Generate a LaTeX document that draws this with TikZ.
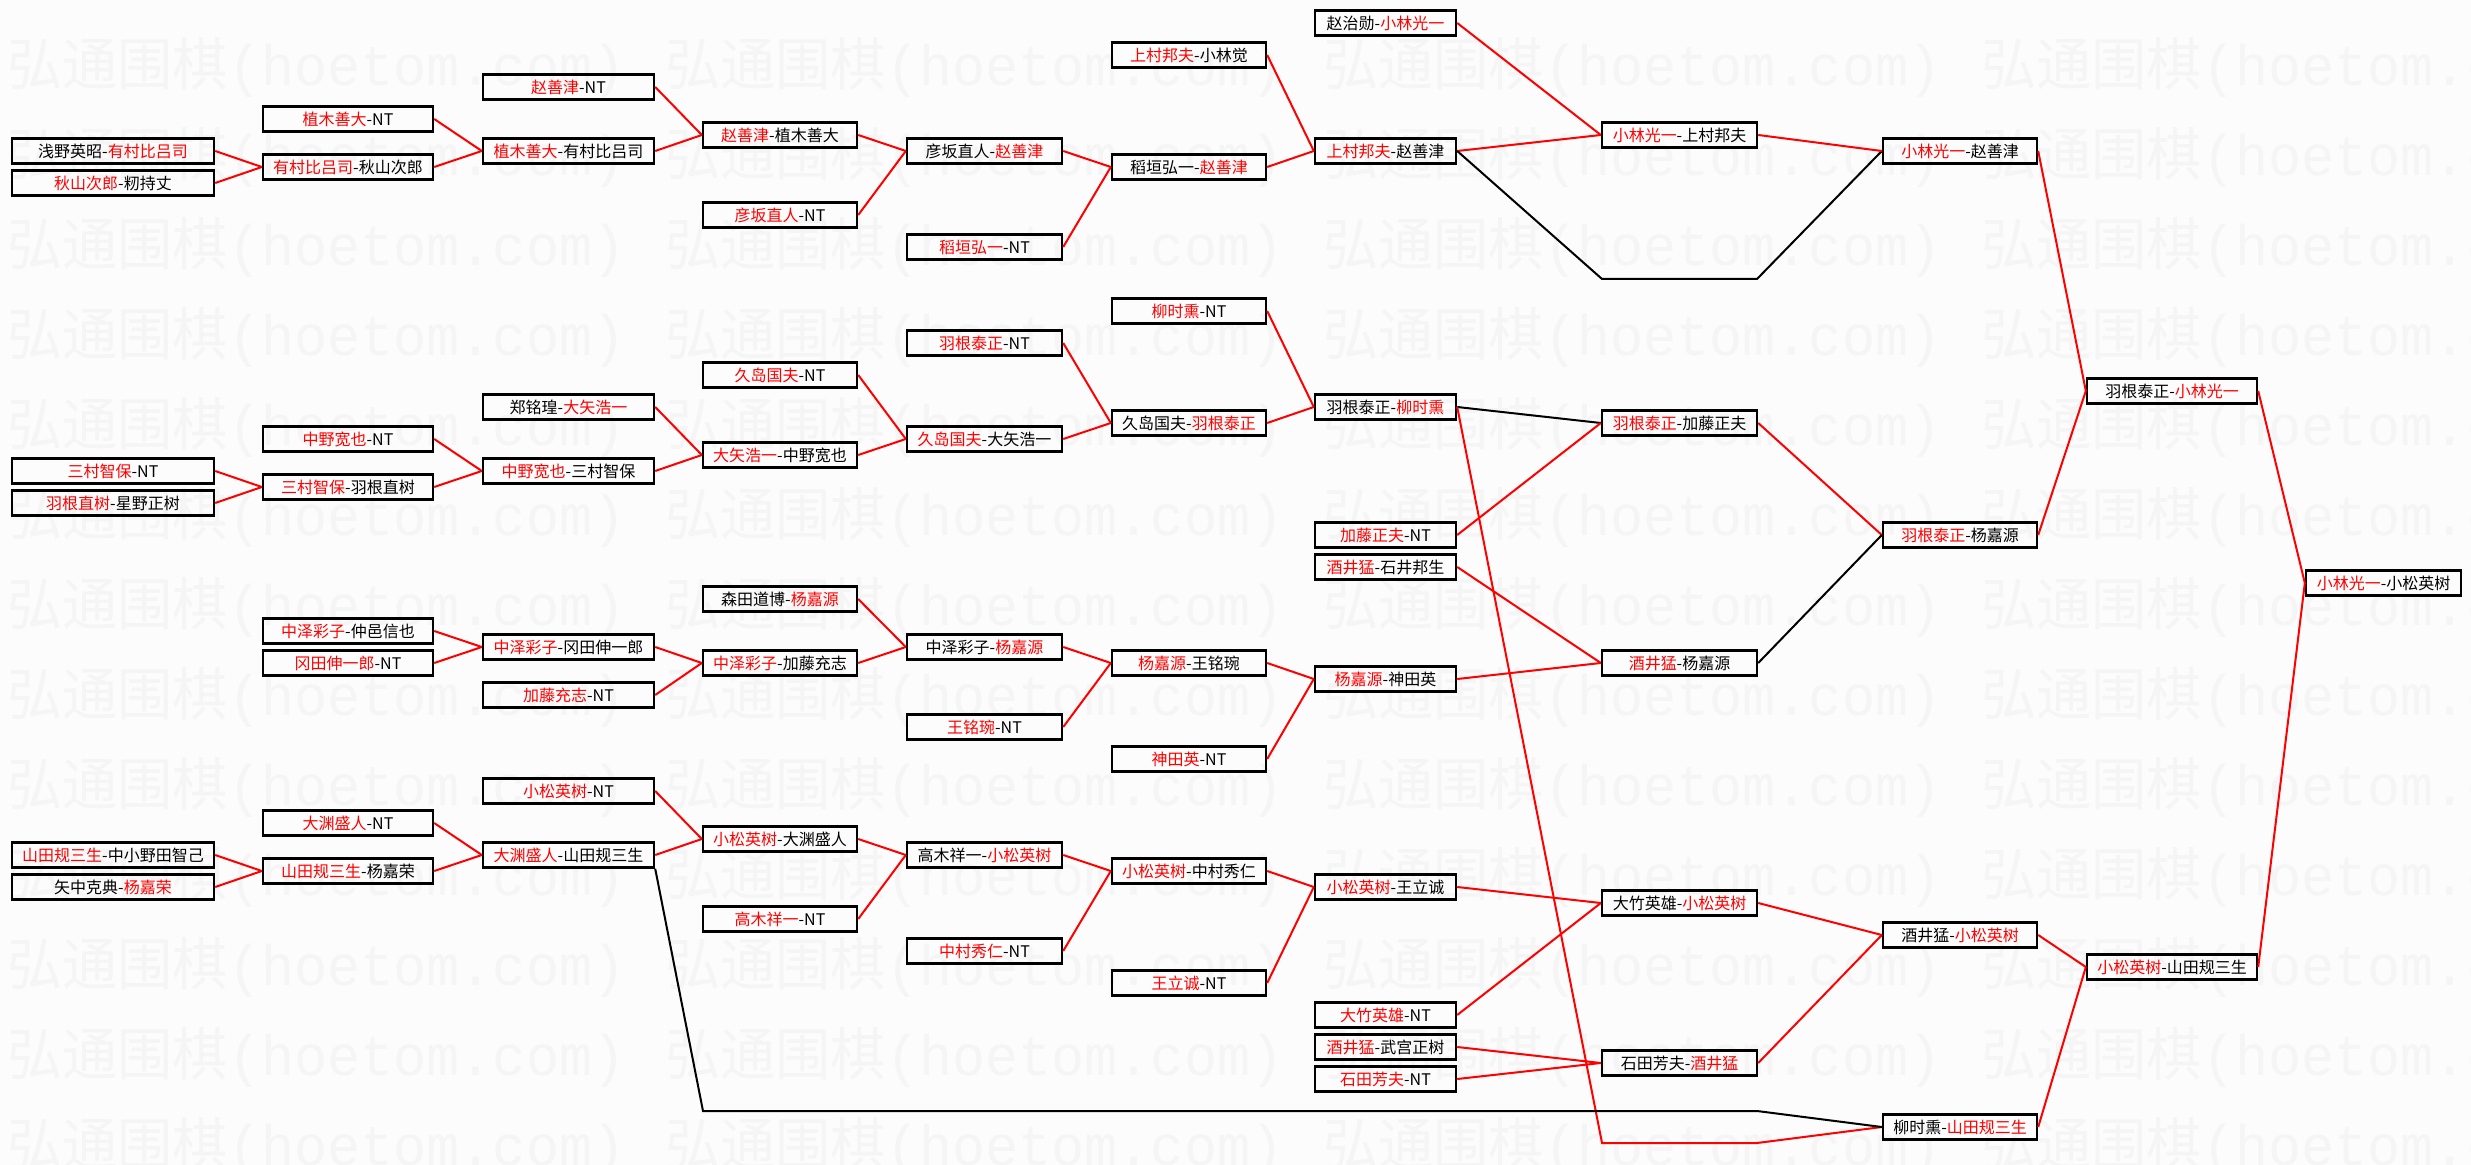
\documentclass[tikz,border=0pt]{standalone}
\usepackage{fontspec}
\usepackage{xcolor}
\usepackage{graphicx}
\usepackage{tikz}
\newfontfamily\cjk{Noto Sans CJK SC}
\newfontfamily\wmmono{Liberation Mono}
\newcommand{\winner}[1]{\textcolor{red}{#1}}

\begin{document}
\begin{tikzpicture}[x=0.5pt, y=-0.5pt,
    box/.style={rectangle, draw=black, line width=1.2pt, inner sep=0pt,
                minimum height=12.5pt, font=\cjk\fontsize{8}{8}\selectfont, align=center},
    colA/.style={box, minimum width=101pt},
    colB/.style={box, minimum width=85pt},
    colC/.style={box, minimum width=85.5pt},
    colD/.style={box, minimum width=77pt},
    colE/.style={box, minimum width=77.5pt},
    colF/.style={box, minimum width=77pt},
    colG/.style={box, minimum width=70.5pt},
    colH/.style={box, minimum width=77.5pt},
    colI/.style={box, minimum width=77pt},
    colJ/.style={box, minimum width=85pt},
    colK/.style={box, minimum width=77.5pt},
    winline/.style={draw=red, line width=1pt},
    loseline/.style={draw=black, line width=1pt},
    wmark/.style={text=black!4, inner sep=0pt, anchor=west}]

\useasboundingbox (0,0) rectangle (2471,1165);
\fill[black!1] (0,0) rectangle (2471,1165);
\clip (0,0) rectangle (2471,1165);

% watermark
\foreach \row in {0,...,12}
  \foreach \col in {0,...,3}
    \node[wmark] (wm-\row-\col) at ({7+658*\col},{67+90*\row})
      {\resizebox{309pt}{24pt}{\cjk 弘通围棋\wmmono (hoetom.com)}};

% round 1
\node[colA] (a1) at (113,151) {浅野英昭-\winner{有村比吕司}};
\node[colA] (a2) at (113,183) {\winner{秋山次郎}-籾持丈};
\node[colA] (a3) at (113,471) {\winner{三村智保}-NT};
\node[colA] (a4) at (113,503) {\winner{羽根直树}-星野正树};
\node[colA] (a5) at (113,855) {\winner{山田规三生}-中小野田智己};
\node[colA] (a6) at (113,887) {矢中克典-\winner{杨嘉荣}};

% round 2
\node[colB] (b1) at (348,119) {\winner{植木善大}-NT};
\node[colB] (b2) at (348,167) {\winner{有村比吕司}-秋山次郎};
\node[colB] (b3) at (348,439) {\winner{中野宽也}-NT};
\node[colB] (b4) at (348,487) {\winner{三村智保}-羽根直树};
\node[colB] (b5) at (348,631) {\winner{中泽彩子}-仲邑信也};
\node[colB] (b6) at (348,663) {\winner{冈田伸一郎}-NT};
\node[colB] (b7) at (348,823) {\winner{大渊盛人}-NT};
\node[colB] (b8) at (348,871) {\winner{山田规三生}-杨嘉荣};

% round 3
\node[colC] (c1) at (568.5,87) {\winner{赵善津}-NT};
\node[colC] (c2) at (568.5,151) {\winner{植木善大}-有村比吕司};
\node[colC] (c3) at (568.5,407) {郑铭瑝-\winner{大矢浩一}};
\node[colC] (c4) at (568.5,471) {\winner{中野宽也}-三村智保};
\node[colC] (c5) at (568.5,647) {\winner{中泽彩子}-冈田伸一郎};
\node[colC] (c6) at (568.5,695) {\winner{加藤充志}-NT};
\node[colC] (c7) at (568.5,791) {\winner{小松英树}-NT};
\node[colC] (c8) at (568.5,855) {\winner{大渊盛人}-山田规三生};

% round 4
\node[colD] (d1) at (780,135) {\winner{赵善津}-植木善大};
\node[colD] (d2) at (780,215) {\winner{彦坂直人}-NT};
\node[colD] (d3) at (780,375) {\winner{久岛国夫}-NT};
\node[colD] (d4) at (780,455) {\winner{大矢浩一}-中野宽也};
\node[colD] (d5) at (780,599) {森田道博-\winner{杨嘉源}};
\node[colD] (d6) at (780,663) {\winner{中泽彩子}-加藤充志};
\node[colD] (d7) at (780,839) {\winner{小松英树}-大渊盛人};
\node[colD] (d8) at (780,919) {\winner{高木祥一}-NT};

% round 5
\node[colE] (e1) at (984.5,151) {彦坂直人-\winner{赵善津}};
\node[colE] (e2) at (984.5,247) {\winner{稻垣弘一}-NT};
\node[colE] (e3) at (984.5,343) {\winner{羽根泰正}-NT};
\node[colE] (e4) at (984.5,439) {\winner{久岛国夫}-大矢浩一};
\node[colE] (e5) at (984.5,647) {中泽彩子-\winner{杨嘉源}};
\node[colE] (e6) at (984.5,727) {\winner{王铭琬}-NT};
\node[colE] (e7) at (984.5,855) {高木祥一-\winner{小松英树}};
\node[colE] (e8) at (984.5,951) {\winner{中村秀仁}-NT};

% round 6
\node[colF] (f1) at (1189,55) {\winner{上村邦夫}-小林觉};
\node[colF] (f2) at (1189,167) {稻垣弘一-\winner{赵善津}};
\node[colF] (f3) at (1189,311) {\winner{柳时熏}-NT};
\node[colF] (f4) at (1189,423) {久岛国夫-\winner{羽根泰正}};
\node[colF] (f5) at (1189,663) {\winner{杨嘉源}-王铭琬};
\node[colF] (f6) at (1189,759) {\winner{神田英}-NT};
\node[colF] (f7) at (1189,871) {\winner{小松英树}-中村秀仁};
\node[colF] (f8) at (1189,983) {\winner{王立诚}-NT};

% round 7
\node[colG] (g1) at (1385.5,23) {赵治勋-\winner{小林光一}};
\node[colG] (g2) at (1385.5,151) {\winner{上村邦夫}-赵善津};
\node[colG] (g3) at (1385.5,407) {羽根泰正-\winner{柳时熏}};
\node[colG] (g4) at (1385.5,535) {\winner{加藤正夫}-NT};
\node[colG] (g5) at (1385.5,567) {\winner{酒井猛}-石井邦生};
\node[colG] (g6) at (1385.5,679) {\winner{杨嘉源}-神田英};
\node[colG] (g7) at (1385.5,887) {\winner{小松英树}-王立诚};
\node[colG] (g8) at (1385.5,1015) {\winner{大竹英雄}-NT};
\node[colG] (g9) at (1385.5,1047) {\winner{酒井猛}-武宫正树};
\node[colG] (g10) at (1385.5,1079) {\winner{石田芳夫}-NT};

% round 8
\node[colH] (h1) at (1679.5,135) {\winner{小林光一}-上村邦夫};
\node[colH] (h2) at (1679.5,423) {\winner{羽根泰正}-加藤正夫};
\node[colH] (h3) at (1679.5,663) {\winner{酒井猛}-杨嘉源};
\node[colH] (h4) at (1679.5,903) {大竹英雄-\winner{小松英树}};
\node[colH] (h5) at (1679.5,1063) {石田芳夫-\winner{酒井猛}};

% round 9
\node[colI] (i1) at (1960,151) {\winner{小林光一}-赵善津};
\node[colI] (i2) at (1960,535) {\winner{羽根泰正}-杨嘉源};
\node[colI] (i3) at (1960,935) {酒井猛-\winner{小松英树}};
\node[colI] (i4) at (1960,1127) {柳时熏-\winner{山田规三生}};

% semi-final and final
\node[colJ] (j1) at (2172,391) {羽根泰正-\winner{小林光一}};
\node[colJ] (j2) at (2172,967) {\winner{小松英树}-山田规三生};
\node[colK] (k1) at (2383.5,583) {\winner{小林光一}-小松英树};

% corner points of the long connectors
\coordinate (topL) at (1602,279);
\coordinate (topR) at (1757,279);
\coordinate (lowL) at (703,1111);
\coordinate (lowR) at (1757,1111);
\coordinate (redL) at (1602,1143);
\coordinate (redR) at (1757,1143);

% upper block
\draw[winline] (a1.east) -- (b2.west);
\draw[winline] (a2.east) -- (b2.west);
\draw[winline] (b1.east) -- (c2.west);
\draw[winline] (b2.east) -- (c2.west);
\draw[winline] (c1.east) -- (d1.west);
\draw[winline] (c2.east) -- (d1.west);
\draw[winline] (d1.east) -- (e1.west);
\draw[winline] (d2.east) -- (e1.west);
\draw[winline] (e1.east) -- (f2.west);
\draw[winline] (e2.east) -- (f2.west);
\draw[winline] (f1.east) -- (g2.west);
\draw[winline] (f2.east) -- (g2.west);
\draw[winline] (g1.east) -- (h1.west);
\draw[winline] (g2.east) -- (h1.west);
\draw[loseline] (g2.east) -- (topL) -- (topR) -- (i1.west);
\draw[winline] (h1.east) -- (i1.west);
\draw[winline] (i1.east) -- (j1.west);

% second block
\draw[winline] (a3.east) -- (b4.west);
\draw[winline] (a4.east) -- (b4.west);
\draw[winline] (b3.east) -- (c4.west);
\draw[winline] (b4.east) -- (c4.west);
\draw[winline] (c3.east) -- (d4.west);
\draw[winline] (c4.east) -- (d4.west);
\draw[winline] (d3.east) -- (e4.west);
\draw[winline] (d4.east) -- (e4.west);
\draw[winline] (e3.east) -- (f4.west);
\draw[winline] (e4.east) -- (f4.west);
\draw[winline] (f3.east) -- (g3.west);
\draw[winline] (f4.east) -- (g3.west);
\draw[loseline] (g3.east) -- (h2.west);
\draw[winline] (g4.east) -- (h2.west);
\draw[winline] (g3.east) -- (redL) -- (redR) -- (i4.west);
\draw[winline] (h2.east) -- (i2.west);
\draw[loseline] (h3.east) -- (i2.west);
\draw[winline] (i2.east) -- (j1.west);
\draw[winline] (j1.east) -- (k1.west);

% third block
\draw[winline] (b5.east) -- (c5.west);
\draw[winline] (b6.east) -- (c5.west);
\draw[winline] (c5.east) -- (d6.west);
\draw[winline] (c6.east) -- (d6.west);
\draw[winline] (d5.east) -- (e5.west);
\draw[winline] (d6.east) -- (e5.west);
\draw[winline] (e5.east) -- (f5.west);
\draw[winline] (e6.east) -- (f5.west);
\draw[winline] (f5.east) -- (g6.west);
\draw[winline] (f6.east) -- (g6.west);
\draw[winline] (g5.east) -- (h3.west);
\draw[winline] (g6.east) -- (h3.west);

% lower block
\draw[winline] (a5.east) -- (b8.west);
\draw[winline] (a6.east) -- (b8.west);
\draw[winline] (b7.east) -- (c8.west);
\draw[winline] (b8.east) -- (c8.west);
\draw[winline] (c7.east) -- (d7.west);
\draw[winline] (c8.east) -- (d7.west);
\draw[loseline] (c8.south east) -- (lowL) -- (lowR) -- (i4.west);
\draw[winline] (d7.east) -- (e7.west);
\draw[winline] (d8.east) -- (e7.west);
\draw[winline] (e7.east) -- (f7.west);
\draw[winline] (e8.east) -- (f7.west);
\draw[winline] (f7.east) -- (g7.west);
\draw[winline] (f8.east) -- (g7.west);
\draw[winline] (g7.east) -- (h4.west);
\draw[winline] (g8.east) -- (h4.west);
\draw[winline] (g9.east) -- (h5.west);
\draw[winline] (g10.east) -- (h5.west);
\draw[winline] (h4.east) -- (i3.west);
\draw[winline] (h5.east) -- (i3.west);
\draw[winline] (i3.east) -- (j2.west);
\draw[winline] (i4.east) -- (j2.west);
\draw[winline] (j2.east) -- (k1.west);
\end{tikzpicture}
\end{document}
